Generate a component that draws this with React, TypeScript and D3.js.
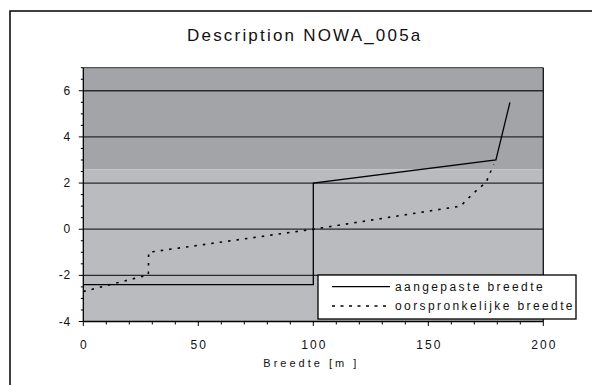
import React from "react";
import * as d3 from "d3";

const title = "Description NOWA_005a";
const xLabel = "Breedte [m ]";
const seriesNames = ["aangepaste breedte", "oorspronkelijke breedte"];
const xTicks = [0, 50, 100, 150, 200];
const yTicks = [-4, -2, 0, 2, 4, 6];
const gridValues = [-2, 0, 2, 4, 6];
const bandSplit = 2.6;

const adjustedX = [0, 100, 100, 179.4, 185.5];
const adjustedY = [-2.4, -2.4, 2.0, 3.0, 5.5];

const originalX = [0, 28.3, 28.4, 100, 164, 167.4, 170.3, 172.8, 175.1, 176.6, 178.5];
const originalY = [-2.7, -1.98, -1.0, 0, 1.0, 1.34, 1.62, 1.84, 2.02, 2.39, 2.8];

const W = 592;
const H = 385;
const M = { left: 83.3, right: 543.3, top: 67.7, bottom: 321.5 };
const font = "'Liberation Sans', Arial, sans-serif";

export default function App() {
  const x = d3.scaleLinear().domain([0, 200]).range([M.left, M.right]);
  const y = d3.scaleLinear().domain([-4, 7]).range([M.bottom, M.top]);
  const line = d3
    .line<[number, number]>()
    .x((d) => x(d[0]))
    .y((d) => y(d[1]));
  const adj: [number, number][] = adjustedX.map((v, i) => [v, adjustedY[i]]);
  const org: [number, number][] = originalX.map((v, i) => [v, originalY[i]]);
  const xMinor = d3.range(0, 201, 10);
  const yMinor = d3.range(-4, 7.01, 0.5);

  const lg = { x: 318, y: 275, w: 258, h: 44 };

  return (
    <svg
      width={W}
      height={H}
      style={{ position: "absolute", left: 0, top: 0, background: "#fff" }}
      fontFamily={font}
    >
      <rect x={10} y={11} width={W + 10} height={H + 10} fill="#fff" stroke="#000" strokeWidth={1.5} />
      <text x={187} y={41} fontSize={17} letterSpacing={2.2} fill="#111">
        {title}
      </text>
      {/* bands */}
      <rect x={x(0)} y={y(7)} width={x(200) - x(0)} height={y(bandSplit) - y(7)} fill="#a2a4a8" />
      <rect x={x(0)} y={y(bandSplit)} width={x(200) - x(0)} height={y(-4) - y(bandSplit)} fill="#b9bbbe" />
      {/* grid */}
      {gridValues.map((g) => (
        <line key={g} x1={x(0)} x2={x(200)} y1={y(g)} y2={y(g)} stroke="#2a2a2a" strokeWidth={1.3} />
      ))}
      {/* border */}
      <line x1={x(0)} x2={x(200)} y1={y(7)} y2={y(7)} stroke="#555" strokeWidth={1.3} />
      <line x1={x(200)} x2={x(200)} y1={y(7)} y2={y(-4)} stroke="#111" strokeWidth={1.3} />
      {/* series */}
      <path d={line(adj) || ""} fill="none" stroke="#000" strokeWidth={1.3} />
      <path d={line(org) || ""} fill="none" stroke="#000" strokeWidth={1.6} strokeDasharray="2.5 6" />
      {/* axes */}
      <line x1={x(0)} x2={x(0)} y1={y(7)} y2={y(-4)} stroke="#000" strokeWidth={1.3} />
      <line x1={x(0)} x2={x(200)} y1={y(-4)} y2={y(-4)} stroke="#000" strokeWidth={1.3} />
      {yMinor.map((v) => (
        <line key={"ym" + v} x1={x(0) - (Number.isInteger(v / 2) ? 4.5 : 2.5)} x2={x(0)} y1={y(v)} y2={y(v)} stroke="#000" strokeWidth={1} />
      ))}
      {xMinor.map((v) => (
        <line key={"xm" + v} x1={x(v)} x2={x(v)} y1={y(-4)} y2={y(-4) + (v % 50 === 0 ? 4.5 : 3)} stroke="#000" strokeWidth={1} />
      ))}
      {yTicks.map((v) => (
        <text key={"yt" + v} x={x(0) - 12} y={y(v) + 4} textAnchor="end" fontSize={12} letterSpacing={1} fill="#111">
          {v}
        </text>
      ))}
      {xTicks.map((v) => (
        <text key={"xt" + v} x={x(v) + 1} y={349.3} textAnchor="middle" fontSize={12} letterSpacing={2} fill="#111">
          {v}
        </text>
      ))}
      <text x={(M.left + M.right) / 2 - 2} y={367.3} textAnchor="middle" fontSize={11} letterSpacing={3} fill="#111">
        {xLabel}
      </text>
      {/* legend */}
      <rect x={lg.x} y={lg.y} width={lg.w} height={lg.h} fill="#fff" stroke="#000" strokeWidth={1.3} />
      <line x1={332} x2={390} y1={286.7} y2={286.7} stroke="#000" strokeWidth={1.3} />
      <line x1={332} x2={390} y1={306} y2={306} stroke="#000" strokeWidth={1.3} strokeDasharray="3 5.5" />
      <text x={395} y={290.7} fontSize={12} letterSpacing={2.4} fill="#111">
        {seriesNames[0]}
      </text>
      <text x={395} y={310} fontSize={12} letterSpacing={2.4} fill="#111">
        {seriesNames[1]}
      </text>
    </svg>
  );
}
